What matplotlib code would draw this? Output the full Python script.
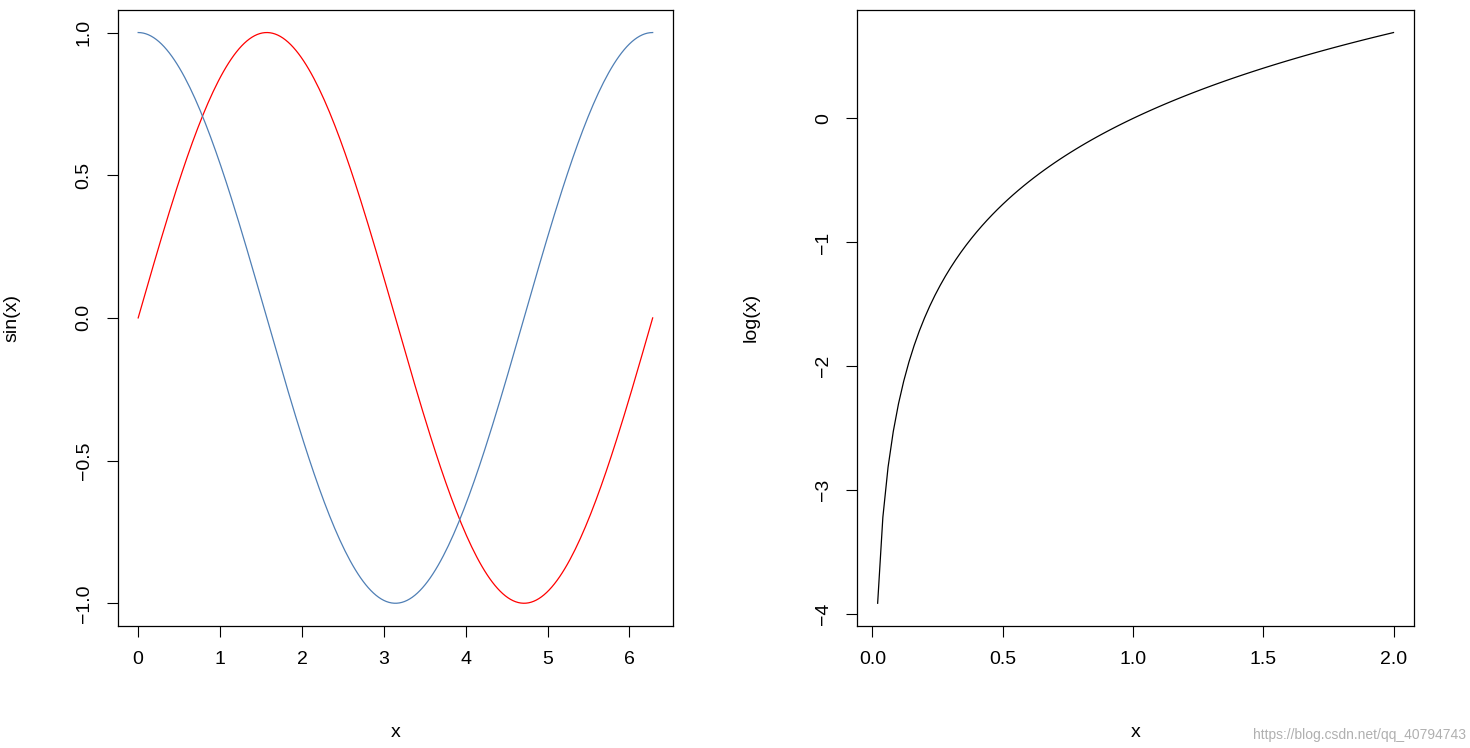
import matplotlib
matplotlib.use("Agg")
import matplotlib.pyplot as plt
import numpy as np

plt.rcParams['font.family'] = ['Liberation Sans', 'DejaVu Sans']
plt.rcParams['font.size'] = 14

# data: the curves are the functions named on the axes
x_trig = np.linspace(0, 2 * np.pi, 200)
y_sin = np.sin(x_trig)
y_cos = np.cos(x_trig)
x_log = np.linspace(0.02, 2, 100)
y_log = np.log(x_log)

left_xticks = [0, 1, 2, 3, 4, 5, 6]
left_yticks = [-1.0, -0.5, 0.0, 0.5, 1.0]
right_xticks = [0.0, 0.5, 1.0, 1.5, 2.0]
right_yticks = [-4, -3, -2, -1, 0]


def r_limits(v):
    lo, hi = np.min(v), np.max(v)
    pad = 0.04 * (hi - lo)
    return lo - pad, hi + pad


def r_style(ax, xticks, yticks, xfmt, yfmt):
    ax.set_xticks(xticks)
    ax.set_yticks(yticks)
    ax.set_xticklabels([xfmt(t) for t in xticks])
    ax.set_yticklabels([yfmt(t) for t in yticks], rotation=90, va='center')
    ax.tick_params(direction='out', length=8, width=0.8, pad=10)
    for s in ax.spines.values():
        s.set_linewidth(0.9)
    ax.set_xlabel('x', labelpad=40)


fig = plt.figure(figsize=(14.7, 7.48), dpi=100)
ax1 = fig.add_axes([0.080, 0.163, 0.378, 0.824])
ax1.plot(x_trig, y_sin, color='red', lw=0.9)
ax1.plot(x_trig, y_cos, color='#4f7fb5', lw=0.9)
ax1.set_xlim(*r_limits(x_trig))
ax1.set_ylim(*r_limits(y_sin))
r_style(ax1, left_xticks, left_yticks, lambda t: f'{t:g}',
        lambda t: f'{t:.1f}'.replace('-', '\u2212'))
ax1.set_ylabel('sin(x)', labelpad=40)

ax2 = fig.add_axes([0.583, 0.163, 0.379, 0.824])
ax2.plot(x_log, y_log, color='black', lw=0.9)
ax2.set_xlim(*r_limits(x_log))
ax2.set_ylim(*r_limits(y_log))
r_style(ax2, right_xticks, right_yticks, lambda t: f'{t:.1f}',
        lambda t: f'{t:g}'.replace('-', '\u2212'))
ax2.set_ylabel('log(x)', labelpad=40)

fig.text(0.997, 0.008, 'https://blog.csdn.net/qq_40794743', ha='right',
         va='bottom', fontsize=10, color='#b0b0b0')

fig.savefig('out.png', dpi=100)
